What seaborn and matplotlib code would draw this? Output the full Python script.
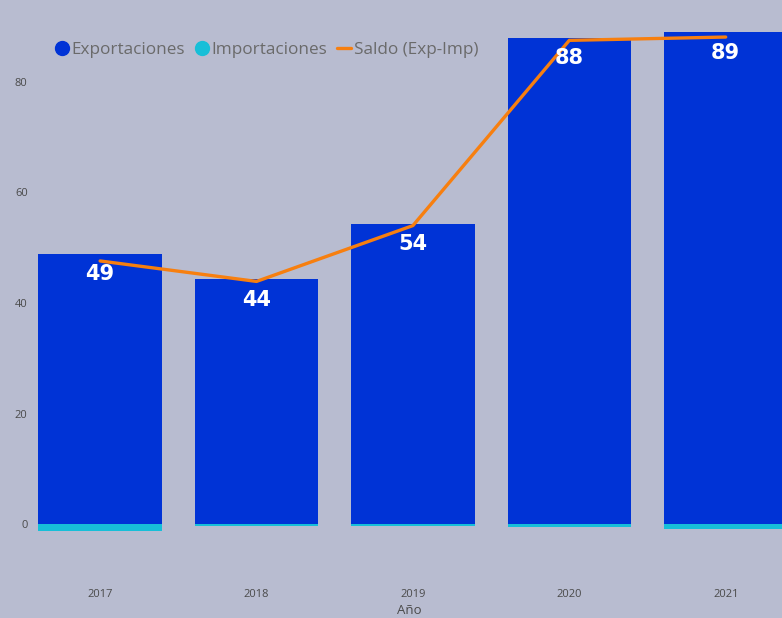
import matplotlib
matplotlib.use("Agg")
import matplotlib.pyplot as plt
import seaborn as sns
import pandas as pd
from matplotlib.lines import Line2D

years = ["2017", "2018", "2019", "2020", "2021"]
exportaciones = [48.9, 44.3, 54.3, 88.0, 89.0]
importaciones = [1.3, 0.4, 0.3, 0.5, 0.9]
saldo = [47.6, 43.9, 54.0, 87.5, 88.1]
bar_labels = ["49", "44", "54", "88", "89"]

bg = "#B8BCD0"
c_exp = "#0033D6"
c_imp = "#17BFD8"
c_sal = "#F77F0F"
gray = "#4A4A4A"

sns.set_theme(style="white")
plt.rcParams["font.family"] = ["Open Sans", "DejaVu Sans"]

df = pd.DataFrame({"Año": years, "exp": exportaciones,
                   "imp": [-v for v in importaciones], "saldo": saldo})

fig = plt.figure(figsize=(7.82, 6.18), dpi=100, facecolor=bg)
ax = fig.add_axes([36 / 782, 43 / 618, 1 - 36 / 782, 575 / 618])
ax.set_facecolor(bg)

sns.barplot(data=df, x="Año", y="exp", color=c_exp, width=0.79,
            saturation=1, linewidth=0, ax=ax)
sns.barplot(data=df, x="Año", y="imp", color=c_imp, width=0.79,
            saturation=1, linewidth=0, ax=ax)
sns.lineplot(data=df, x="Año", y="saldo", color=c_sal, linewidth=2.4,
             sort=False, ax=ax)

ax.bar_label(ax.containers[0], labels=bar_labels, padding=-22,
             color="white", fontsize=15, fontweight="bold",
             family="DejaVu Sans")

ax.set_xlim(-0.41, 4.36)
ax.set_ylim(-9.2, 94.8)
ax.set_yticks([0, 20, 40, 60, 80])
ax.tick_params(axis="y", labelsize=8, colors=gray, pad=6, length=0)
ax.tick_params(axis="x", labelsize=8, colors=gray, pad=10, length=0)
ax.set_ylabel("")
ax.set_xlabel("Año", fontsize=9.5, color=gray, labelpad=3)
sns.despine(ax=ax, left=True, bottom=True)

handles = [
    Line2D([], [], marker="o", linestyle="none", markersize=10,
           markerfacecolor=c_exp, markeredgecolor=c_exp),
    Line2D([], [], marker="o", linestyle="none", markersize=10,
           markerfacecolor=c_imp, markeredgecolor=c_imp),
    Line2D([], [], color=c_sal, linewidth=2.4),
]
ax.legend(handles, ["Exportaciones", "Importaciones", "Saldo (Exp-Imp)"],
          loc="upper left", bbox_to_anchor=(0.005, 0.953), ncol=3,
          frameon=False, fontsize=12.3, labelcolor="#6A6A6A",
          handlelength=0.8, handletextpad=0.15, columnspacing=0.6)

fig.savefig("out.png", dpi=100, facecolor=bg)
